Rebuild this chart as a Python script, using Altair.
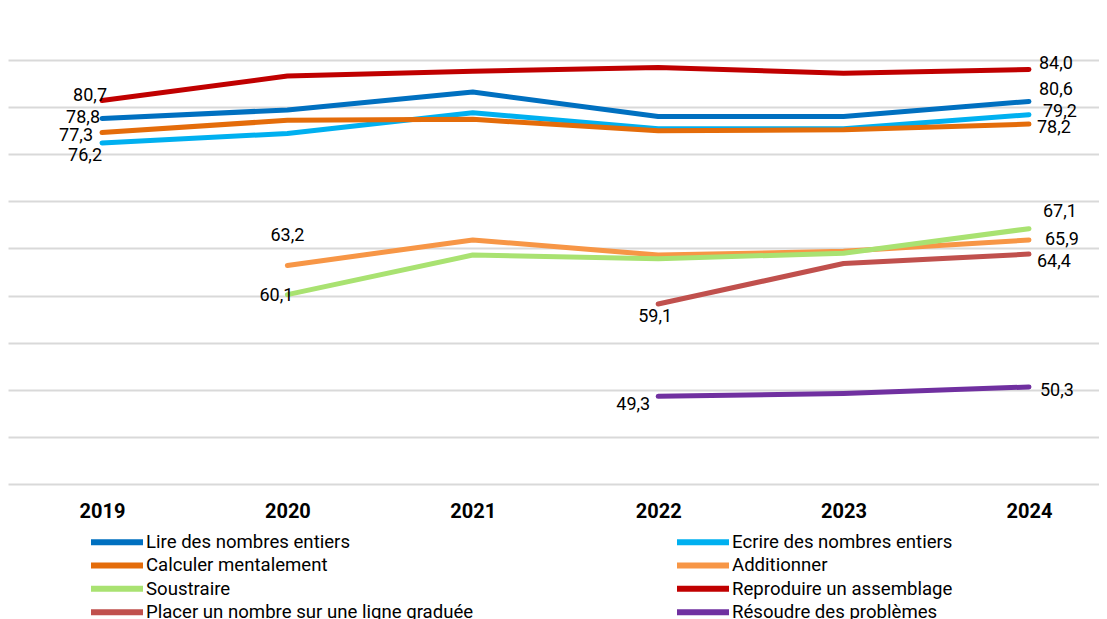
import altair as alt
import pandas as pd

years = ["2019", "2020", "2021", "2022", "2023", "2024"]
series_names = [
    "Lire des nombres entiers",
    "Ecrire des nombres entiers",
    "Calculer mentalement",
    "Additionner",
    "Soustraire",
    "Reproduire un assemblage",
    "Placer un nombre sur une ligne graduée",
    "Résoudre des problèmes",
]
colors = ["#0070C0", "#00B0F0", "#E46C0A", "#F79646", "#A9E271", "#C00000", "#C0504D", "#7030A0"]

lire = [78.8, 79.7, 81.6, 79.0, 79.0, 80.6]
ecrire = [76.2, 77.2, 79.4, 77.7, 77.7, 79.2]
calculer = [77.3, 78.6, 78.7, 77.5, 77.6, 78.2]
additionner = [None, 63.2, 65.9, 64.3, 64.7, 65.9]
soustraire = [None, 60.1, 64.3, 63.9, 64.5, 67.1]
reproduire = [80.7, 83.3, 83.8, 84.2, 83.6, 84.0]
placer = [None, None, None, 59.1, 63.4, 64.4]
resoudre = [None, None, None, 49.3, 49.6, 50.3]

all_values = [lire, ecrire, calculer, additionner, soustraire, reproduire, placer, resoudre]

rows = []
for name, vals in zip(series_names, all_values):
    for yr, v in zip(years, vals):
        if v is not None:
            rows.append({"series": name, "year": yr, "value": v,
                         "label": f"{v:.1f}".replace(".", ",")})
df = pd.DataFrame(rows)

# legend fills column by column: reorder so the two columns read row by row
legend_order = [series_names[i] for i in (0, 2, 4, 6, 1, 3, 5, 7)]
legend_colors = [colors[series_names.index(n)] for n in legend_order]

FONT = "Roboto"

x_enc = alt.X("year:O", title=None,
              scale=alt.Scale(type="point", padding=0.4424, align=0.573),
              axis=alt.Axis(labelFont=FONT, labelFontSize=20, labelFontWeight="bold",
                            labelColor="black", labelAngle=0, labelPadding=17,
                            ticks=False, domain=False, grid=False))
y_enc = alt.Y("value:Q", title=None,
              scale=alt.Scale(domain=[40, 85], nice=False, zero=False),
              axis=alt.Axis(values=[40, 45, 50, 55, 60, 65, 70, 75, 80, 85],
                            labels=False, ticks=False, domain=False,
                            grid=True, gridColor="#D9D9D9", gridWidth=2))

lines = alt.Chart(df).mark_line(strokeWidth=5, strokeCap="round", strokeJoin="round").encode(
    x=x_enc,
    y=y_enc,
    color=alt.Color("series:N",
                    scale=alt.Scale(domain=legend_order, range=legend_colors),
                    sort=legend_order,
                    legend=alt.Legend(orient="none", legendX=80, legendY=474, columns=2,
                                      direction="vertical",
                                      title=None, symbolType="stroke", symbolSize=2704,
                                      symbolStrokeWidth=6, labelFont=FONT, labelFontSize=18.6,
                                      labelColor="black", rowPadding=4.4, columnPadding=200,
                                      labelOffset=0, clipHeight=16, padding=0,
                                      labelLimit=500)),
)

# label placement: (series index, year, align, dx, dy)
label_specs = [
    (5, "2019", "right", 5, -5),
    (0, "2019", "right", -2, 0),
    (2, "2019", "right", -9, 3),
    (1, "2019", "right", 0, 13),
    (3, "2020", "center", 0, -29),
    (4, "2020", "right", 6, 1),
    (6, "2022", "center", -3, 13),
    (7, "2022", "right", -8, 9),
    (5, "2024", "left", 10, -5),
    (0, "2024", "left", 10, -11),
    (1, "2024", "left", 14, -3),
    (2, "2024", "left", 8, 4),
    (4, "2024", "left", 14, -17),
    (3, "2024", "left", 16, 0),
    (6, "2024", "left", 8, 8),
    (7, "2024", "left", 11, 4),
]

layers = [lines]
for si, yr, al, dx, dy in label_specs:
    name = series_names[si]
    t = alt.Chart(df).transform_filter(
        (alt.datum.series == name) & (alt.datum.year == yr)
    ).mark_text(align=al, baseline="middle", dx=dx, dy=dy, font=FONT, fontSize=18,
                color="black").encode(
        x=alt.X("year:O"),
        y=alt.Y("value:Q"),
        text="label:N",
    )
    layers.append(t)

chart = alt.layer(*layers).properties(
    width=1091, height=424,
    autosize=alt.AutoSizeParams(type="none"),
    padding={"left": 0, "top": 52, "right": 0, "bottom": 150},
).configure_view(stroke=None)

chart.save("out.html", embed_options={"renderer": "svg", "actions": False})
